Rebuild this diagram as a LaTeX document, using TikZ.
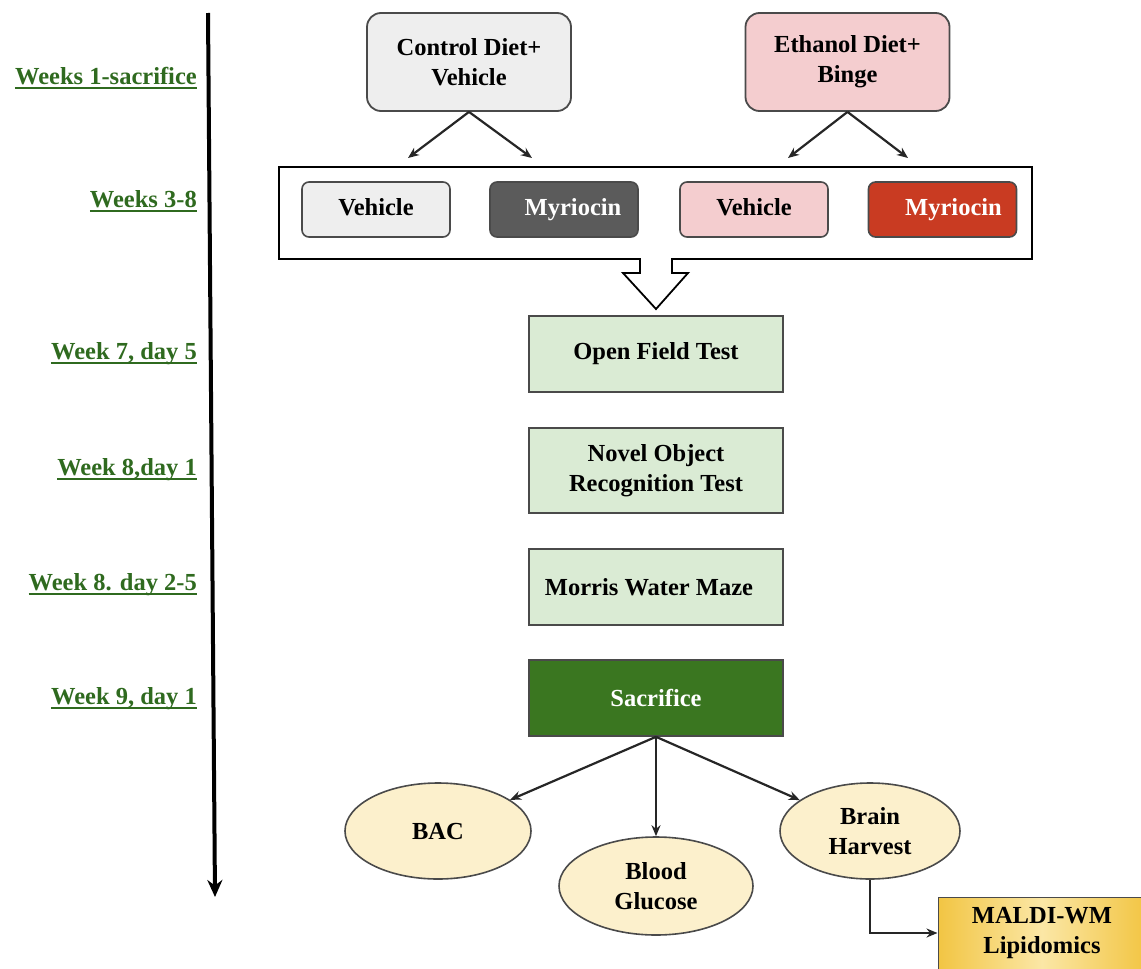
\documentclass[tikz,border=0pt]{standalone}
\usepackage{fontspec}
\setmainfont{Liberation Serif}
\usetikzlibrary{positioning,shapes.geometric,arrows.meta}

\definecolor{wkgreen}{HTML}{2F6A1F}
\definecolor{ctrlgray}{HTML}{EEEEEE}
\definecolor{ethpink}{HTML}{F4CDCF}
\definecolor{myrgray}{HTML}{5B5B5B}
\definecolor{myrred}{HTML}{C93B22}
\definecolor{testgreen}{HTML}{DAEBD4}
\definecolor{sacgreen}{HTML}{3A7620}
\definecolor{cream}{HTML}{FCF0CC}
\definecolor{maldigold}{HTML}{F2C543}
\definecolor{maldilight}{HTML}{FBE7A6}
\definecolor{edgegray}{HTML}{4A4A4A}

\begin{document}
\begin{tikzpicture}[x=1pt, y=-1pt,
  txt/.style={font=\fontsize{24.5}{30}\selectfont\bfseries, align=center},
  diet/.style={txt, draw=edgegray, line width=1.8pt, rounded corners=14pt,
               minimum width=204pt, minimum height=98pt, inner sep=0pt},
  drug/.style={font=\fontsize{24.5}{30}\selectfont\bfseries, draw=edgegray, line width=1.6pt,
               rounded corners=7pt, text height=16pt, text depth=4pt,
               minimum width=148pt, minimum height=55pt, inner sep=0pt},
  test/.style={txt, draw=edgegray, line width=1.6pt, fill=testgreen,
               minimum width=254pt, minimum height=76pt, inner sep=0pt},
  result/.style={txt, ellipse, draw=edgegray, line width=1.6pt, fill=cream, inner sep=0pt},
  week/.style={font=\fontsize{24.5}{30}\selectfont\bfseries, text=wkgreen,
               anchor=base east, inner sep=0pt},
  arrow/.style={-{Stealth[length=11pt,width=9pt]}, line width=2.2pt, draw=black!85}
]
\useasboundingbox (0,0) rectangle (1141,969);
\clip (0,0) rectangle (1141,969);

% Time line with week labels
\coordinate (tTop) at (208,13);
\coordinate (tBot) at (215,897);
\draw[line width=4pt, -{Stealth[length=17pt,width=15pt]}] (tTop) -- (tBot);

\node[week] (w1) at (197,84)  {Weeks 1-sacrifice};
\node[week] (w2) at (197,207) {Weeks 3-8};
\node[week] (w3) at (197,359) {Week 7, day 5};
\node[week] (w4) at (197,475) {Week 8,day 1};
\node[week] (w5) at (197,590) {Week 8. day 2-5};
\node[week] (w6) at (197,704) {Week 9, day 1};
\foreach \w in {w1,w2,w3,w4,w5,w6}
  \draw[wkgreen, line width=1.3pt] ([yshift=-4pt]\w.base west) -- ([yshift=-4pt]\w.base east);

% Diet groups
\node[diet, fill=ctrlgray] (ctrl) at (469,62)   {Control Diet+\\Vehicle};
\node[diet, fill=ethpink]  (eth)  at (847.5,62) {Ethanol Diet+\\Binge};

% Treatment container with down notch
\draw[line width=1.8pt, fill=white]
  (279,167) -- (1032,167) -- (1032,259) -- (672,259) -- (672,273) -- (688,273)
  -- (656,309) -- (623,273) -- (640,273) -- (640,259) -- (279,259) -- cycle;

\node[drug, fill=ctrlgray]            (veh1) at (376,209.5)   {Vehicle};
\node[drug, fill=myrgray, text=white] (myr1) at (564,209.5)   {\hspace*{18pt}Myriocin};
\node[drug, fill=ethpink]             (veh2) at (754,209.5)   {Vehicle};
\node[drug, fill=myrred, text=white]  (myr2) at (942.5,209.5) {\hspace*{22pt}Myriocin};

\coordinate (c1) at (408,158);
\coordinate (c2) at (532,158);
\coordinate (e1) at (788,158);
\coordinate (e2) at (908,158);
\draw[arrow] (ctrl.south) -- (c1);
\draw[arrow] (ctrl.south) -- (c2);
\draw[arrow] (eth.south) -- (e1);
\draw[arrow] (eth.south) -- (e2);

% Behaviour tests
\node[test] (open)   at (656,354)   {Open Field Test};
\node[test, minimum height=85pt] (novel) at (656,470.5) {Novel Object\\Recognition Test};
\node[test] (morris) at (656,587)   {Morris Water Maze\hspace*{14pt}};
\node[test, fill=sacgreen, text=white] (sacr) at (656,698) {Sacrifice};

% Outcomes
\node[result, minimum width=186pt, minimum height=96pt] (bac)   at (438,831) {BAC};
\node[result, minimum width=194pt, minimum height=98pt] (blood) at (656,886) {Blood\\Glucose};
\node[result, minimum width=180pt, minimum height=96pt] (brain) at (870,831) {Brain\\Harvest};
\node[txt, draw=edgegray, line width=1pt, left color=maldigold, right color=maldigold,
      middle color=maldilight, minimum width=208pt, minimum height=72pt, inner sep=0pt]
  (maldi) at (1042,933) {MALDI-WM\\Lipidomics};

\draw[arrow] (sacr.south) -- (bac);
\draw[arrow] (sacr.south) -- (blood.north);
\draw[arrow] (sacr.south) -- (brain);
\draw[arrow] (brain.south) |- (maldi.west);

\end{tikzpicture}
\end{document}
